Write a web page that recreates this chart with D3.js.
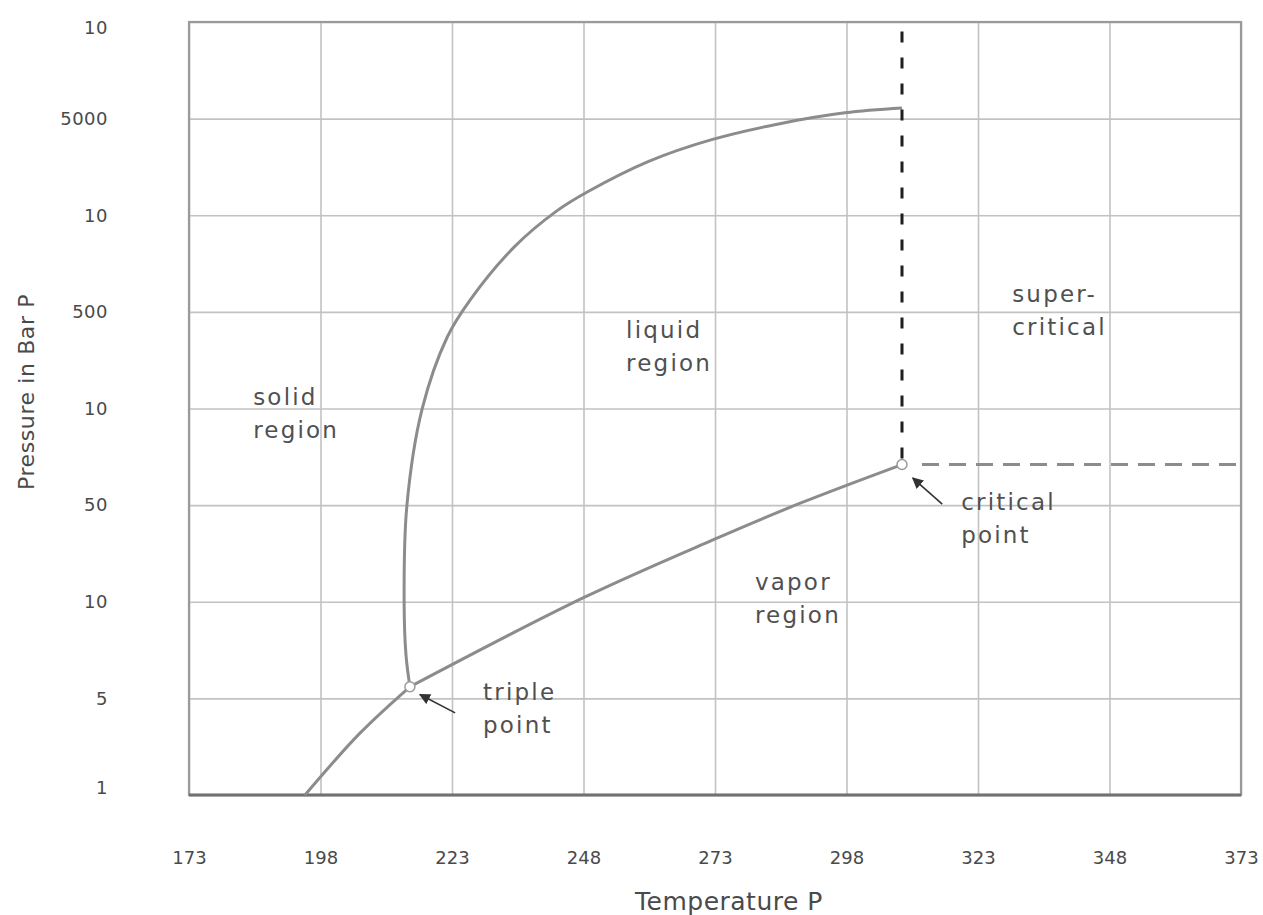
<!DOCTYPE html>
<html>
<head>
<meta charset="utf-8">
<script src="https://cdn.jsdelivr.net/npm/d3@7"></script>
<style>
  body { margin: 0; background: #fff; }
  svg { display: block; font-family: "DejaVu Sans", sans-serif; }
</style>
</head>
<body>
<svg id="chart" width="1263" height="915"></svg>
<script>
// temperature ticks (K) and the pressure tick labels, bottom to top, as printed
const xTicks = [173, 198, 223, 248, 273, 298, 323, 348, 373];
const yTickLabels = ["1", "5", "10", "50", "10", "500", "10", "5000", "10"];

// curves, [temperature, pressure level] where level is the tick index
const sublimationCurve = [[195.05, 0], [205.5, 0.64], [215.0, 1.12]];
const vaporCurve = [[215.0, 1.12], [248.3, 2.05], [272.6, 2.64], [289.2, 3.02], [308.55, 3.42]];
const meltingCurve = [
  [215.0, 1.12], [214.25, 1.45], [213.9, 1.99], [214.4, 2.98], [217.3, 3.99],
  [222.1, 4.74], [226.4, 5.12], [234.8, 5.67], [242.8, 6.04], [248.7, 6.24],
  [260.5, 6.56], [272.2, 6.78], [284.6, 6.94], [297.7, 7.06], [308.55, 7.11]
];
const triplePoint = [215.0, 1.12];
const criticalPoint = [308.55, 3.42];

const regionLabels = [
  { lines: ["solid", "region"], t: 185.2, l: 4.04 },
  { lines: ["liquid", "region"], t: 256.1, l: 4.73 },
  { lines: ["super-", "critical"], t: 329.5, l: 5.10 },
  { lines: ["critical", "point"], t: 319.8, l: 2.95 },
  { lines: ["vapor", "region"], t: 280.6, l: 2.12 },
  { lines: ["triple", "point"], t: 228.9, l: 0.98 }
];
const arrows = [
  { from: [223.6, 0.85], to: [216.9, 1.04] },
  { from: [316.2, 3.01], to: [310.6, 3.28] }
];

const svg = d3.select("#chart");
const margin = { top: 22, left: 189, right: 22, bottom: 120 };
const width = 1263, height = 915;
const innerW = width - margin.left - margin.right;
const innerH = height - margin.top - margin.bottom;

const x = d3.scaleLinear().domain([173, 373]).range([0, innerW]);
const y = d3.scaleLinear().domain([0, 8]).range([innerH, 0]);

const g = svg.append("g").attr("transform", `translate(${margin.left},${margin.top})`);

// gridlines
g.append("g")
  .attr("class", "grid")
  .call(d3.axisBottom(x).tickValues(xTicks).tickSize(innerH).tickFormat(""))
  .call(s => s.select(".domain").remove())
  .call(s => s.selectAll("line").attr("stroke", "#c2c2c2").attr("stroke-width", 1.6));

g.append("g")
  .attr("class", "grid")
  .call(d3.axisLeft(y).tickValues(d3.range(9)).tickSize(-innerW).tickFormat(""))
  .call(s => s.select(".domain").remove())
  .call(s => s.selectAll("line").attr("stroke", "#c2c2c2").attr("stroke-width", 1.6));

// frame
g.append("rect")
  .attr("width", innerW).attr("height", innerH)
  .attr("fill", "none").attr("stroke", "#9a9a9a").attr("stroke-width", 2.2);
g.append("line")
  .attr("x1", 0).attr("x2", innerW).attr("y1", innerH).attr("y2", innerH)
  .attr("stroke", "#707070").attr("stroke-width", 3);

// y axis labels
const yAxis = g.append("g")
  .call(d3.axisLeft(y).tickValues(d3.range(9)).tickSize(0).tickPadding(81)
    .tickFormat(i => yTickLabels[i]));
yAxis.select(".domain").remove();
yAxis.selectAll("text")
  .attr("font-size", 18).attr("fill", "#4a4a4a").attr("font-family", "DejaVu Sans")
  .attr("letter-spacing", 0.5)
  .attr("dy", (i) => i === 8 ? "0.62em" : i === 0 ? "-0.1em" : "0.32em");

// x axis labels
const xAxis = g.append("g")
  .attr("transform", `translate(0,${innerH})`)
  .call(d3.axisBottom(x).tickValues(xTicks).tickSize(0).tickPadding(56));
xAxis.select(".domain").remove();
xAxis.selectAll("text")
  .attr("font-size", 18).attr("fill", "#4a4a4a").attr("font-family", "DejaVu Sans");

// axis titles
svg.append("text")
  .attr("x", 635).attr("y", 910)
  .attr("font-size", 25).attr("fill", "#4a4a4a").attr("letter-spacing", 0.5)
  .text("Temperature  P");

svg.append("text")
  .attr("transform", "translate(34,392) rotate(-90)")
  .attr("text-anchor", "middle")
  .attr("font-size", 22).attr("fill", "#4a4a4a").attr("letter-spacing", 0.6)
  .text("Pressure in Bar P");

// phase boundaries
const line = d3.line().x(d => x(d[0])).y(d => y(d[1])).curve(d3.curveCatmullRom.alpha(0.5));
[sublimationCurve, vaporCurve, meltingCurve].forEach(c => {
  g.append("path")
    .attr("d", line(c))
    .attr("fill", "none")
    .attr("stroke", "#8c8c8c")
    .attr("stroke-width", 3);
});

// supercritical boundaries
g.append("line")
  .attr("x1", x(criticalPoint[0])).attr("x2", x(criticalPoint[0]))
  .attr("y1", y(criticalPoint[1]) - 6).attr("y2", y(8))
  .attr("stroke", "#1e1e1e").attr("stroke-width", 3)
  .attr("stroke-dasharray", "11 15");

g.append("line")
  .attr("x1", x(criticalPoint[0]) + 20).attr("x2", x(373))
  .attr("y1", y(criticalPoint[1])).attr("y2", y(criticalPoint[1]))
  .attr("stroke", "#8c8c8c").attr("stroke-width", 3)
  .attr("stroke-dasharray", "17 10");

// points
g.selectAll(".pt")
  .data([triplePoint, criticalPoint])
  .enter().append("circle")
  .attr("class", "pt")
  .attr("cx", d => x(d[0])).attr("cy", d => y(d[1]))
  .attr("r", 5)
  .attr("fill", "#fff").attr("stroke", "#9a9a9a").attr("stroke-width", 1.5);

// arrows
svg.append("defs").append("marker")
  .attr("id", "head")
  .attr("viewBox", "0 0 10 10")
  .attr("refX", 9).attr("refY", 5)
  .attr("markerWidth", 7).attr("markerHeight", 7)
  .attr("markerUnits", "strokeWidth")
  .attr("orient", "auto")
  .append("path").attr("d", "M0,0 L10,5 L0,10 z").attr("fill", "#333");

g.selectAll(".arrow")
  .data(arrows)
  .enter().append("line")
  .attr("class", "arrow")
  .attr("x1", d => x(d.from[0])).attr("y1", d => y(d.from[1]))
  .attr("x2", d => x(d.to[0])).attr("y2", d => y(d.to[1]))
  .attr("stroke", "#333").attr("stroke-width", 1.6)
  .attr("marker-end", "url(#head)");

// region labels
regionLabels.forEach(r => {
  const t = g.append("text")
    .attr("x", x(r.t)).attr("y", y(r.l))
    .attr("font-size", 23).attr("fill", "#505050").attr("letter-spacing", 2.2);
  r.lines.forEach((s, i) => {
    t.append("tspan").attr("x", x(r.t)).attr("dy", i === 0 ? 0 : 33).text(s);
  });
});
</script>
</body>
</html>
